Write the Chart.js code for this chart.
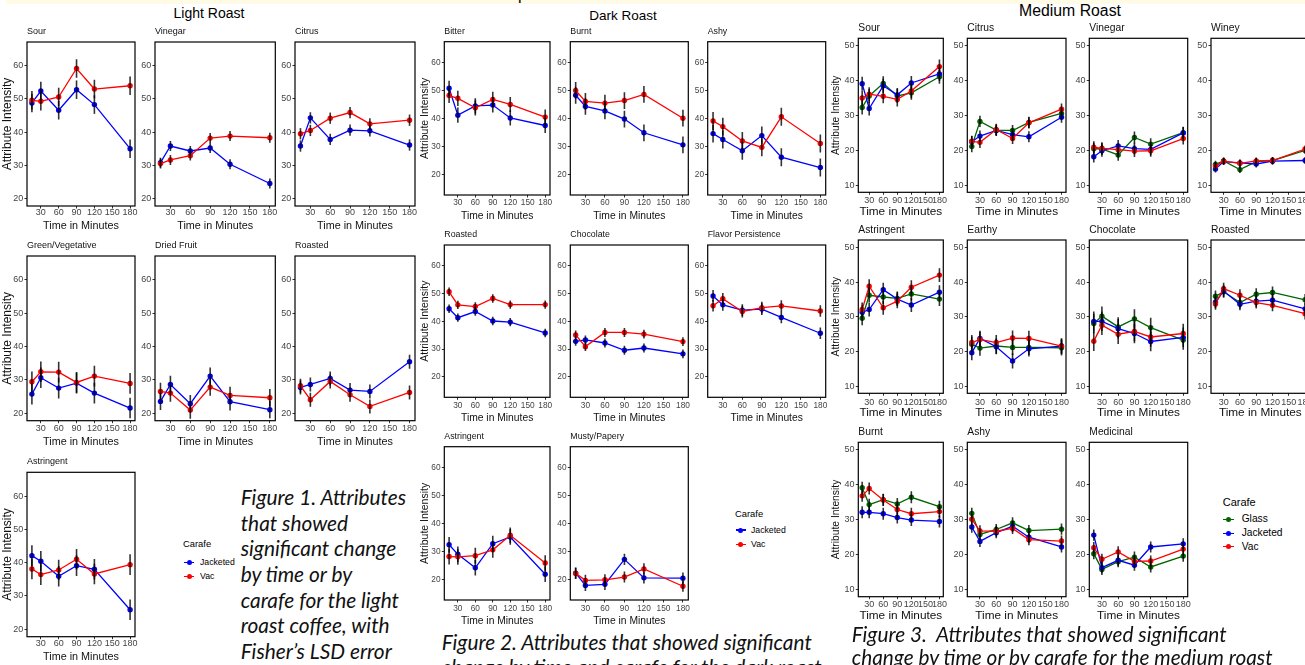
<!DOCTYPE html>
<html>
<head>
<meta charset="utf-8">
<title>Coffee carafe attributes</title>
<script src="https://cdn.jsdelivr.net/npm/chart.js@4.4.1/dist/chart.umd.min.js"></script>
<style>
  html, body { margin: 0; padding: 0; background: #fff; }
  #page { position: relative; width: 1305px; height: 665px; overflow: hidden; background: #fff;
          font-family: 'Liberation Sans', Arial, sans-serif; color: #000; }
  #band { position: absolute; left: 6px; top: 0; width: 1299px; height: 4px; background: #fffbe6; overflow: hidden; }
  #band span { position: absolute; left: 512px; top: -13px; font-size: 16px; line-height: 16px; }
  canvas.panel { position: absolute; }
  .group-title { position: absolute; white-space: nowrap; transform: translateX(-50%); }
  .legend-text { position: absolute; white-space: nowrap; }
  .legend-line { position: absolute; height: 1.4px; }
  .legend-dot { position: absolute; width: 5px; height: 5px; border-radius: 50%; }
  .caption { position: absolute; white-space: nowrap; font-family: Lato, 'Open Sans', sans-serif; font-style: italic; color: #111; }
</style>
</head>
<body>
<div id="page">
  <div id="band"><span>p</span></div>
</div>
<script>
// ---- data ----
const times = [15, 30, 60, 90, 120, 180];
const timeTicks = [30, 60, 90, 120, 150, 180];
const lightTicks = [20, 30, 40, 50, 60];
const darkTicks = [20, 30, 40, 50, 60];
const mediumTicks = [10, 20, 30, 40, 50];

const lightAttributes = ['Sour', 'Vinegar', 'Citrus', 'Green/Vegetative', 'Dried Fruit', 'Roasted', 'Astringent'];
const darkAttributes = ['Bitter', 'Burnt', 'Ashy', 'Roasted', 'Chocolate', 'Flavor Persistence', 'Astringent', 'Musty/Papery'];
const mediumAttributes = ['Sour', 'Citrus', 'Vinegar', 'Winey', 'Astringent', 'Earthy', 'Chocolate', 'Roasted', 'Burnt', 'Ashy', 'Medicinal'];

// light roast (Jacketed / Vac)
const lightSourJacketed = [48.8, 52.4, 46.6, 52.8, 48.3, 35.0];
const lightSourVac = [49.6, 49.3, 50.6, 59.2, 53.0, 54.0];
const lightVinegarJacketed = [30.8, 35.8, 34.3, 35.2, 30.3, 24.5];
const lightVinegarVac = [30.5, 31.6, 32.9, 38.2, 38.8, 38.3];
const lightCitrusJacketed = [35.8, 44.3, 37.8, 40.6, 40.4, 36.1];
const lightCitrusVac = [39.5, 40.5, 44.2, 45.9, 42.5, 43.6];
const lightGreenJacketed = [25.7, 30.6, 27.5, 29.0, 26.0, 21.5];
const lightGreenVac = [29.4, 32.4, 32.3, 29.2, 31.1, 28.9];
const lightDriedFruitJacketed = [23.5, 28.6, 22.8, 31.1, 23.4, 21.0];
const lightDriedFruitVac = [26.5, 26.0, 20.9, 27.8, 25.3, 24.6];
const lightRoastedJacketed = [27.7, 28.6, 30.4, 26.9, 26.5, 35.4];
const lightRoastedVac = [28.2, 24.0, 29.5, 25.5, 22.0, 26.2];
const lightAstringentJacketed = [42.1, 40.4, 35.9, 39.1, 38.0, 25.8];
const lightAstringentVac = [38.1, 36.4, 37.8, 41.0, 36.6, 39.4];
const lightLsd = [2.8, 1.5, 1.7, 3.1, 2.6, 2.1, 3.1];

// dark roast (Jacketed / Vac)
const darkBitterJacketed = [50.8, 41.2, 44.5, 44.8, 40.2, 37.5];
const darkBitterVac = [48.2, 47.2, 43.8, 46.8, 45.0, 40.5];
const darkBurntJacketed = [48.3, 44.3, 42.7, 39.8, 34.9, 30.6];
const darkBurntVac = [50.0, 46.1, 45.5, 46.4, 48.6, 40.1];
const darkAshyJacketed = [34.6, 32.5, 28.5, 33.9, 26.2, 22.5];
const darkAshyVac = [39.1, 37.1, 32.0, 29.7, 40.6, 31.1];
const darkRoastedJacketed = [44.5, 41.3, 43.5, 40.1, 39.7, 35.8];
const darkRoastedVac = [50.6, 45.9, 45.3, 48.2, 46.0, 46.0];
const darkChocolateJacketed = [32.8, 33.3, 32.2, 29.6, 30.4, 28.3];
const darkChocolateVac = [35.1, 30.9, 36.0, 36.0, 35.4, 32.7];
const darkFlavorJacketed = [49.1, 45.9, 44.0, 44.4, 41.4, 35.7];
const darkFlavorVac = [45.6, 48.1, 43.5, 44.9, 45.5, 43.7];
const darkAstringentJacketed = [32.4, 29.0, 24.2, 32.8, 35.2, 21.9];
const darkAstringentVac = [28.2, 28.1, 28.5, 30.6, 35.8, 25.9];
const darkMustyJacketed = [22.3, 17.9, 18.3, 27.2, 20.6, 20.5];
const darkMustyVac = [22.2, 19.7, 19.9, 20.9, 23.8, 17.6];
const darkLsd = [2.7, 3.0, 3.2, 1.5, 1.6, 2.1, 2.8, 2.0];

// medium roast (Glass / Jacketed / Vac)
const mediumSourGlass = [32.3, 35.6, 39.2, 35.6, 36.5, 41.1];
const mediumSourJacketed = [39.1, 32.0, 38.5, 35.9, 39.3, 41.9];
const mediumSourVac = [35.0, 36.1, 35.5, 34.6, 37.0, 44.0];
const mediumCitrusGlass = [21.1, 28.3, 25.8, 25.7, 28.0, 30.6];
const mediumCitrusJacketed = [22.5, 24.1, 25.7, 24.5, 23.9, 29.5];
const mediumCitrusVac = [22.6, 22.3, 26.0, 23.4, 27.9, 31.8];
const mediumVinegarGlass = [20.5, 20.4, 18.7, 23.7, 21.8, 25.1];
const mediumVinegarJacketed = [18.2, 19.9, 21.3, 20.5, 20.3, 25.0];
const mediumVinegarVac = [20.9, 20.6, 20.2, 19.8, 19.9, 23.4];
const mediumWineyGlass = [16.0, 17.0, 14.5, 16.8, 17.1, 20.0];
const mediumWineyJacketed = [14.7, 16.8, 16.4, 16.1, 16.9, 17.1];
const mediumWineyVac = [15.5, 16.9, 16.3, 17.0, 17.1, 20.4];
const mediumAstringentGlass = [29.6, 36.2, 35.7, 35.3, 36.6, 35.1];
const mediumAstringentJacketed = [31.3, 32.1, 37.8, 35.1, 33.4, 37.1];
const mediumAstringentVac = [32.1, 38.8, 32.6, 34.5, 38.5, 42.0];
const mediumEarthyGlass = [22.1, 21.0, 21.6, 21.2, 21.2, 21.1];
const mediumEarthyJacketed = [19.7, 23.8, 21.4, 17.3, 20.8, 21.6];
const mediumEarthyVac = [22.6, 23.5, 22.6, 23.9, 23.8, 21.6];
const mediumChocolateGlass = [28.1, 30.2, 27.1, 29.4, 26.9, 23.3];
const mediumChocolateJacketed = [28.7, 28.7, 26.6, 25.2, 22.9, 24.1];
const mediumChocolateVac = [23.0, 27.6, 25.0, 25.8, 24.2, 25.2];
const mediumRoastedGlass = [35.9, 37.2, 34.1, 36.5, 37.0, 34.9];
const mediumRoastedJacketed = [34.2, 37.4, 33.6, 34.5, 34.8, 32.3];
const mediumRoastedVac = [33.7, 38.1, 36.2, 34.1, 33.3, 30.9];
const mediumBurntGlass = [39.1, 34.3, 35.7, 34.5, 36.4, 33.7];
const mediumBurntJacketed = [32.1, 32.1, 31.7, 30.6, 29.9, 29.5];
const mediumBurntVac = [36.8, 38.9, 35.6, 32.9, 31.7, 32.3];
const mediumAshyGlass = [31.8, 25.8, 27.2, 29.1, 26.9, 27.3];
const mediumAshyJacketed = [27.9, 23.8, 26.3, 28.1, 25.0, 22.2];
const mediumAshyVac = [30.1, 26.8, 26.7, 27.5, 24.3, 23.9];
const mediumMedicinalGlass = [20.3, 15.8, 18.0, 19.3, 16.5, 19.6];
const mediumMedicinalJacketed = [25.6, 16.3, 18.4, 17.0, 22.2, 23.1];
const mediumMedicinalVac = [22.0, 18.7, 20.8, 18.1, 18.2, 21.6];
const mediumLsd = [2.0, 1.6, 1.7, 1.0, 2.0, 2.2, 2.8, 1.7, 1.7, 1.6, 1.6];

const lightSeries = {
  Jacketed: [lightSourJacketed, lightVinegarJacketed, lightCitrusJacketed, lightGreenJacketed, lightDriedFruitJacketed, lightRoastedJacketed, lightAstringentJacketed],
  Vac: [lightSourVac, lightVinegarVac, lightCitrusVac, lightGreenVac, lightDriedFruitVac, lightRoastedVac, lightAstringentVac]
};
const darkSeries = {
  Jacketed: [darkBitterJacketed, darkBurntJacketed, darkAshyJacketed, darkRoastedJacketed, darkChocolateJacketed, darkFlavorJacketed, darkAstringentJacketed, darkMustyJacketed],
  Vac: [darkBitterVac, darkBurntVac, darkAshyVac, darkRoastedVac, darkChocolateVac, darkFlavorVac, darkAstringentVac, darkMustyVac]
};
const mediumSeries = {
  Glass: [mediumSourGlass, mediumCitrusGlass, mediumVinegarGlass, mediumWineyGlass, mediumAstringentGlass, mediumEarthyGlass, mediumChocolateGlass, mediumRoastedGlass, mediumBurntGlass, mediumAshyGlass, mediumMedicinalGlass],
  Jacketed: [mediumSourJacketed, mediumCitrusJacketed, mediumVinegarJacketed, mediumWineyJacketed, mediumAstringentJacketed, mediumEarthyJacketed, mediumChocolateJacketed, mediumRoastedJacketed, mediumBurntJacketed, mediumAshyJacketed, mediumMedicinalJacketed],
  Vac: [mediumSourVac, mediumCitrusVac, mediumVinegarVac, mediumWineyVac, mediumAstringentVac, mediumEarthyVac, mediumChocolateVac, mediumRoastedVac, mediumBurntVac, mediumAshyVac, mediumMedicinalVac]
};

// ---- styles / layout ----
const carafeColors = { Glass: '#006400', Jacketed: '#0000ff', Vac: '#ff0000' };
const carafeOrder = { Vac: 1, Jacketed: 2, Glass: 3 };
const FONT = "'Liberation Sans', Arial, sans-serif";
Chart.defaults.font.family = FONT;

const groups = [
  {
    name: 'Light Roast', titleX: 209, titleY: 12.5, titleSize: 14,
    attributes: lightAttributes, series: lightSeries, lsd: lightLsd, yTicks: lightTicks,
    yMin: 17.7, yMax: 67.2, ncols: 3,
    cols: [[27, 135], [155, 275.3], [295, 415]],
    rows: [[42, 206], [256, 420.7], [472.3, 636.7]],
    labelDy: [6.8, 8, 7.3], xTitleDy: [19.8, 21, 20.3],
    panelTitle: 9, tick: 9, xTitle: 10.8, yTitle: 12, yTitleX: 7.7
  },
  {
    name: 'Dark Roast', titleX: 623, titleY: 15.3, titleSize: 13.5,
    attributes: darkAttributes, series: darkSeries, lsd: darkLsd, yTicks: darkTicks,
    yMin: 12.7, yMax: 67.4, ncols: 3,
    cols: [[444.3, 550], [570.3, 688.3], [707.7, 825.7]],
    rows: [[41.7, 195], [245, 397.3], [446.7, 600]],
    labelDy: [7.3, 8, 8.5], xTitleDy: [20, 20, 20],
    panelTitle: 8.8, tick: 8.3, xTitle: 10.3, yTitle: 10.5, yTitleX: 425.5
  },
  {
    name: 'Medium Roast', titleX: 1070, titleY: 11.2, titleSize: 15.8,
    attributes: mediumAttributes, series: mediumSeries, lsd: mediumLsd, yTicks: mediumTicks,
    yMin: 8.0, yMax: 52.1, ncols: 4,
    cols: [[858.3, 943.3], [967.3, 1066], [1089.3, 1187.7], [1211, 1309.6]],
    rows: [[38.3, 192.3], [240, 393.3], [442.3, 596.7]],
    labelDy: [8.7, 9.2, 7.5], xTitleDy: [18.7, 19.4, 18.3],
    panelTitle: 10.3, tick: 9, xTitle: 11.8, yTitle: 10.3, yTitleX: 836.2
  }
];

const legends = [
  { x: 183, titleY: 544, titleSize: 9.4, itemSize: 8.7, labels: ['Jacketed', 'Vac'], itemYs: [562.3, 576.7], sym: [184, 194], textX: 200 },
  { x: 735, titleY: 513.3, titleSize: 9.4, itemSize: 8.7, labels: ['Jacketed', 'Vac'], itemYs: [530, 544.3], sym: [735.7, 745.7], textX: 751 },
  { x: 1222.7, titleY: 502.3, titleSize: 11, itemSize: 10.2, labels: ['Glass', 'Jacketed', 'Vac'], itemYs: [519.3, 533.3, 546.7], sym: [1223.3, 1234.3], textX: 1241.7 }
];

const captions = [
  { x: 240.7, y: 496.7, step: 25.6, width: 166,
    lines: ['Figure 1. Attributes', 'that showed', 'significant change', 'by time or by', 'carafe for the light', 'roast coffee, with', 'Fisher\u2019s LSD error'] },
  { x: 441.7, y: 641.7, step: 25, width: 371,
    lines: ['Figure 2. Attributes that showed significant', 'change by time and carafe for the dark roast'] },
  { x: 851.7, y: 633.3, step: 23.6, width: 376,
    lines: ['Figure 3.\u00a0 Attributes that showed significant', 'change by time or by carafe for the medium roast'] }
];

const page = document.getElementById('page');

// error bars, panel frame and strip title
const panelFrame = {
  id: 'panelFrame',
  afterDatasetsDraw(chart, args, opts) {
    const { ctx, chartArea: a } = chart;
    const xs = chart.scales.x, ys = chart.scales.y;
    ctx.save();
    ctx.beginPath();
    ctx.rect(a.left, a.top, a.width, a.height);
    ctx.clip();
    ctx.strokeStyle = 'rgba(0,0,0,0.8)';
    ctx.lineWidth = 1.6;
    chart.data.datasets.forEach(ds => {
      ds.data.forEach(p => {
        const px = xs.getPixelForValue(p.x);
        ctx.beginPath();
        ctx.moveTo(px, ys.getPixelForValue(p.y - opts.lsd));
        ctx.lineTo(px, ys.getPixelForValue(p.y + opts.lsd));
        ctx.stroke();
      });
    });
    ctx.restore();

    ctx.save();
    ctx.strokeStyle = '#000';
    ctx.lineWidth = 1.2;
    ctx.strokeRect(a.left, a.top, a.width, a.height);
    ctx.fillStyle = '#111';
    ctx.font = opts.titleSize + 'px ' + FONT;
    ctx.textBaseline = 'middle';
    ctx.textAlign = 'left';
    ctx.fillText(opts.title, a.left, a.top - 10.3);
    ctx.restore();
  }
};

function addPanel(g, idx) {
  const row = Math.floor(idx / g.ncols), col = idx % g.ncols;
  const [l, r] = g.cols[col];
  const [t, b] = g.rows[row];
  const yLh = g.yTitle * 1.2, xLh = g.xTitle * 1.2;
  const firstCol = col === 0;

  const left = Math.floor(firstCol ? g.yTitleX - yLh / 2 : l - 24);
  const top = Math.floor(t - 18);
  const width = Math.ceil(r + 14 - left);
  const height = Math.ceil(b + g.xTitleDy[row] + xLh / 2 - top);
  const padL = l - left, padT = t - top, padR = width - (r - left), padB = height - (b - top);
  const tickLen = 2.5;

  const canvas = document.createElement('canvas');
  canvas.className = 'panel';
  canvas.width = width;
  canvas.height = height;
  canvas.style.left = left + 'px';
  canvas.style.top = top + 'px';
  canvas.style.width = width + 'px';
  canvas.style.height = height + 'px';
  page.appendChild(canvas);

  const datasets = Object.keys(g.series).map(name => ({
    label: name,
    data: times.map((tm, i) => ({ x: tm, y: g.series[name][idx][i] })),
    borderColor: carafeColors[name],
    backgroundColor: carafeColors[name],
    pointBackgroundColor: carafeColors[name],
    pointBorderWidth: 0,
    pointRadius: 2.7,
    borderWidth: 1.3,
    tension: 0,
    order: carafeOrder[name]
  }));

  new Chart(canvas, {
    type: 'line',
    data: { datasets },
    plugins: [panelFrame],
    options: {
      responsive: false,
      animation: false,
      layout: { padding: { left: 0, top: padT, right: padR, bottom: 0 } },
      plugins: {
        legend: { display: false },
        tooltip: { enabled: false },
        panelFrame: { lsd: g.lsd[idx], title: g.attributes[idx], titleSize: g.panelTitle }
      },
      scales: {
        x: {
          type: 'linear', min: 6.75, max: 188.25,
          afterBuildTicks: s => { s.ticks = timeTicks.map(v => ({ value: v })); },
          afterFit: s => { s.height = padB; },
          grid: { display: true, drawOnChartArea: false, drawTicks: true, tickLength: tickLen, color: '#333', lineWidth: 1 },
          border: { display: false },
          ticks: {
            autoSkip: false, maxRotation: 0, minRotation: 0, color: '#444',
            font: { size: g.tick }, padding: g.labelDy[row] - tickLen - g.tick * 0.6
          },
          title: { display: true, text: 'Time in Minutes', color: '#111', padding: 0, font: { size: g.xTitle } }
        },
        y: {
          type: 'linear', min: g.yMin, max: g.yMax,
          afterBuildTicks: s => { s.ticks = g.yTicks.map(v => ({ value: v })); },
          afterFit: s => { s.width = padL; },
          grid: { display: true, drawOnChartArea: false, drawTicks: true, tickLength: tickLen, color: '#333', lineWidth: 1 },
          border: { display: false },
          ticks: { color: '#444', font: { size: g.tick }, padding: 1.2 },
          title: { display: firstCol, text: 'Attribute Intensity', color: '#111', padding: 0, font: { size: g.yTitle } }
        }
      }
    }
  });
}

groups.forEach(g => {
  const el = document.createElement('div');
  el.className = 'group-title';
  el.textContent = g.name;
  el.style.left = g.titleX + 'px';
  el.style.top = (g.titleY - g.titleSize / 2) + 'px';
  el.style.fontSize = g.titleSize + 'px';
  el.style.lineHeight = g.titleSize + 'px';
  page.appendChild(el);
  g.attributes.forEach((a, i) => addPanel(g, i));
});

function addText(text, x, y, size) {
  const el = document.createElement('div');
  el.className = 'legend-text';
  el.textContent = text;
  el.style.left = x + 'px';
  el.style.top = (y - size * 0.6) + 'px';
  el.style.fontSize = size + 'px';
  el.style.lineHeight = (size * 1.2) + 'px';
  page.appendChild(el);
}

legends.forEach(lg => {
  addText('Carafe', lg.x, lg.titleY, lg.titleSize);
  lg.labels.forEach((name, i) => {
    const y = lg.itemYs[i];
    const line = document.createElement('div');
    line.className = 'legend-line';
    line.style.left = lg.sym[0] + 'px';
    line.style.width = (lg.sym[1] - lg.sym[0]) + 'px';
    line.style.top = (y - 0.7) + 'px';
    line.style.background = carafeColors[name];
    page.appendChild(line);
    const dot = document.createElement('div');
    dot.className = 'legend-dot';
    dot.style.left = ((lg.sym[0] + lg.sym[1]) / 2 - 2.5) + 'px';
    dot.style.top = (y - 2.5) + 'px';
    dot.style.background = carafeColors[name];
    page.appendChild(dot);
    addText(name, lg.textX, y, lg.itemSize);
  });
});

// captions: fit font size so the first line spans the measured width
const measure = document.createElement('canvas').getContext('2d');
captions.forEach(c => {
  measure.font = "italic 20px Lato, 'Open Sans', sans-serif";
  const size = 20 * c.width / measure.measureText(c.lines[0]).width;
  c.lines.forEach((txt, i) => {
    const el = document.createElement('div');
    el.className = 'caption';
    el.textContent = txt;
    el.style.left = c.x + 'px';
    el.style.fontSize = size + 'px';
    el.style.lineHeight = (size * 1.2) + 'px';
    el.style.top = (c.y + i * c.step - size * 0.6) + 'px';
    page.appendChild(el);
  });
});
</script>
</body>
</html>
